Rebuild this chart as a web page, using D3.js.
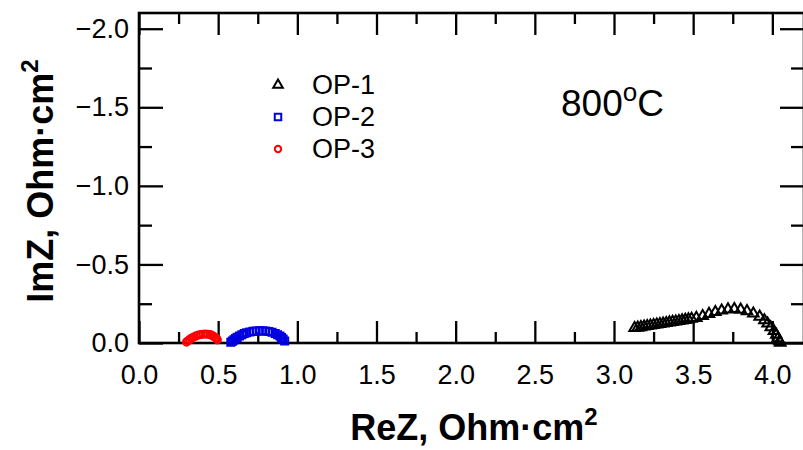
<!DOCTYPE html>
<html>
<head>
<meta charset="utf-8">
<script src="https://cdn.jsdelivr.net/npm/d3@7/dist/d3.min.js"></script>
<style>
    body { margin: 0; background: #fff; }
    svg { display: block; font-family: "Liberation Sans", Arial, sans-serif; }
</style>
</head>
<body>
<div id="chart"></div>
<script>

// series: [ReZ, ImZ] in Ohm.cm2
var op1 = [
    [3.13, -0.095], [3.15, -0.098], [3.17, -0.101], [3.19, -0.105], [3.21, -0.108],
    [3.23, -0.111], [3.25, -0.114], [3.27, -0.118], [3.29, -0.121], [3.31, -0.124],
    [3.33, -0.127], [3.35, -0.131], [3.37, -0.134], [3.39, -0.137], [3.41, -0.140],
    [3.43, -0.144], [3.45, -0.147], [3.47, -0.150], [3.49, -0.154], [3.52, -0.160],
    [3.56, -0.172], [3.60, -0.185], [3.64, -0.197], [3.68, -0.207], [3.72, -0.214],
    [3.76, -0.216], [3.80, -0.212], [3.84, -0.203], [3.88, -0.188], [3.92, -0.168],
    [3.95, -0.145], [3.97, -0.124], [3.99, -0.100], [4.01, -0.076], [4.025, -0.052],
    [4.035, -0.030], [4.045, -0.012], [4.05, -0.002]
];

var op2 = [
    [0.58, -0.005], [0.59, -0.012], [0.60, -0.020], [0.61, -0.028], [0.62, -0.036],
    [0.635, -0.045], [0.65, -0.053], [0.665, -0.060], [0.68, -0.065], [0.70, -0.070],
    [0.72, -0.074], [0.74, -0.076], [0.76, -0.077], [0.78, -0.077], [0.80, -0.076],
    [0.82, -0.073], [0.84, -0.068], [0.86, -0.061], [0.875, -0.053], [0.89, -0.044],
    [0.90, -0.034], [0.91, -0.025], [0.92, -0.013]
];

var op3 = [
    [0.30, -0.006], [0.31, -0.014], [0.32, -0.022], [0.33, -0.030], [0.345, -0.038],
    [0.36, -0.045], [0.375, -0.050], [0.39, -0.054], [0.405, -0.056], [0.42, -0.057],
    [0.435, -0.056], [0.45, -0.053], [0.46, -0.049], [0.47, -0.043], [0.48, -0.036],
    [0.49, -0.028], [0.495, -0.020]
];

var seriesNames = ["OP-1", "OP-2", "OP-3"];
var seriesColours = ["#000000", "#0000e0", "#ff0000"];

var xTicks = [0.0, 0.5, 1.0, 1.5, 2.0, 2.5, 3.0, 3.5, 4.0];
var xMinor = [0.25, 0.75, 1.25, 1.75, 2.25, 2.75, 3.25, 3.75, 4.25];
var yTicks = [0.0, -0.5, -1.0, -1.5, -2.0];
var yMinor = [-0.25, -0.75, -1.25, -1.75];

var tempLabel = "800";


(function () {

    var width = 803;
    var height = 450;

    var margin = { top: 13, right: -1, bottom: 107, left: 139 };

    var svg = d3.select("#chart")
        .append("svg")
        .attr("width", width)
        .attr("height", height);

    var x = d3.scaleLinear()
        .domain([0, 4.2])
        .range([margin.left, width - margin.right]);

    var y = d3.scaleLinear()
        .domain([0, -2.1])
        .range([height - margin.bottom, margin.top]);

    var fmt = d3.format(".1f");

    // axes - ticks point inwards on all four sides
    svg.append("g")
        .attr("transform", "translate(0," + y(0) + ")")
        .call(d3.axisBottom(x).tickValues(xTicks).tickFormat(fmt)
            .tickSizeInner(-22).tickSizeOuter(0).tickPadding(22));

    svg.append("g")
        .attr("transform", "translate(0," + y(0) + ")")
        .call(d3.axisBottom(x).tickValues(xMinor).tickFormat("")
            .tickSizeInner(-11).tickSizeOuter(0));

    svg.append("g")
        .attr("transform", "translate(0," + margin.top + ")")
        .call(d3.axisTop(x).tickValues(xTicks).tickFormat("")
            .tickSizeInner(-22).tickSizeOuter(0));

    svg.append("g")
        .attr("transform", "translate(0," + margin.top + ")")
        .call(d3.axisTop(x).tickValues(xMinor).tickFormat("")
            .tickSizeInner(-11).tickSizeOuter(0));

    svg.append("g")
        .attr("transform", "translate(" + margin.left + ",0)")
        .call(d3.axisLeft(y).tickValues(yTicks).tickFormat(fmt)
            .tickSizeInner(-24).tickSizeOuter(0).tickPadding(10));

    svg.append("g")
        .attr("transform", "translate(" + margin.left + ",0)")
        .call(d3.axisLeft(y).tickValues(yMinor).tickFormat("")
            .tickSizeInner(-13).tickSizeOuter(0));

    svg.append("g")
        .attr("transform", "translate(" + (width - margin.right) + ",0)")
        .call(d3.axisRight(y).tickValues(yTicks).tickFormat("")
            .tickSizeInner(-24).tickSizeOuter(0));

    svg.append("g")
        .attr("transform", "translate(" + (width - margin.right) + ",0)")
        .call(d3.axisRight(y).tickValues(yMinor).tickFormat("")
            .tickSizeInner(-13).tickSizeOuter(0));

    svg.selectAll(".domain").remove();
    svg.selectAll(".tick line")
        .attr("stroke", "#000")
        .attr("stroke-width", 2.3);

    svg.selectAll(".tick text")
        .attr("fill", "#000")
        .style("font-family", "'Liberation Sans', Arial, sans-serif")
        .style("font-size", "27px");

    // frame
    svg.append("rect")
        .attr("x", x(0))
        .attr("y", y(-2.1))
        .attr("width", x(4.2) - x(0))
        .attr("height", y(0) - y(-2.1))
        .attr("fill", "none")
        .attr("stroke", "#000")
        .attr("stroke-width", 2.6);

    // markers
    var symbols = [d3.symbolTriangle, d3.symbolSquare, d3.symbolCircle];
    var sizes = [48, 50, 40];
    var allData = [op1, op2, op3];

    allData.forEach(function (data, i) {
        var sym = d3.symbol().type(symbols[i]).size(sizes[i]);
        svg.append("g")
            .attr("class", "series")
            .selectAll("path")
            .data(data)
            .enter()
            .append("path")
            .attr("d", sym)
            .attr("transform", function (d) {
                return "translate(" + x(d[0]) + "," + y(d[1]) + ")";
            })
            .attr("fill", "none")
            .attr("stroke", seriesColours[i])
            .attr("stroke-width", 2);
    });

    // legend
    var legend = svg.append("g")
        .attr("class", "legend")
        .attr("transform", "translate(278,85)");

    seriesNames.forEach(function (name, i) {
        var row = legend.append("g")
            .attr("transform", "translate(0," + (i * 32) + ")");
        row.append("path")
            .attr("d", d3.symbol().type(symbols[i]).size(sizes[i] - 8))
            .attr("fill", "none")
            .attr("stroke", seriesColours[i])
            .attr("stroke-width", 2);
        row.append("text")
            .attr("x", 34)
            .attr("y", 9)
            .style("font-size", "27px")
            .text(name);
    });

    // temperature caption
    var temp = svg.append("text")
        .attr("x", 561)
        .attr("y", 116)
        .style("font-size", "37px")
        .text(tempLabel);
    temp.append("tspan")
        .attr("dy", "-15")
        .style("font-size", "26px")
        .text("o");
    temp.append("tspan")
        .attr("dy", "15")
        .text("C");

    // axis titles
    var xt = svg.append("text")
        .attr("x", 474)
        .attr("y", 440)
        .attr("text-anchor", "middle")
        .style("font-size", "36px")
        .style("font-weight", "bold")
        .text("ReZ, Ohm\u00b7cm");
    xt.append("tspan")
        .attr("dy", "-15")
        .style("font-size", "24px")
        .text("2");

    var yt = svg.append("text")
        .attr("transform", "translate(53,181) rotate(-90)")
        .attr("text-anchor", "middle")
        .style("font-size", "36px")
        .style("font-weight", "bold")
        .text("ImZ, Ohm\u00b7cm");
    yt.append("tspan")
        .attr("dy", "-15")
        .style("font-size", "24px")
        .text("2");

})();

</script>
</body>
</html>
